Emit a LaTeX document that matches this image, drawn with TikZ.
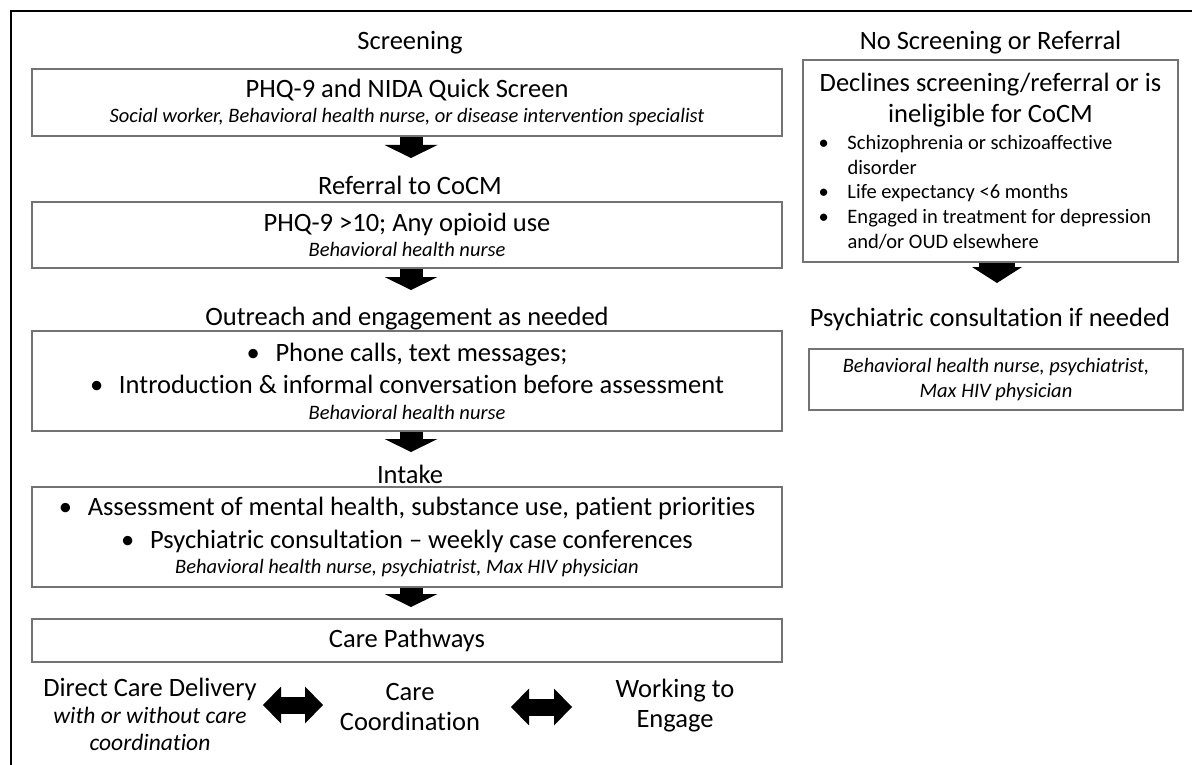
\documentclass[tikz,border=0pt]{standalone}
\usepackage{fontspec}
\setmainfont[Ligatures=NoCommon]{Carlito}
\usetikzlibrary{arrows.meta}
\newcommand\smit{\fontsize{20.5}{25}\selectfont\itshape}
\newcommand\smrg{\fontsize{20.5}{25}\selectfont}
\newcommand\blt{\makebox[29pt][l]{•}}
\begin{document}
\begin{tikzpicture}[x=1pt,y=-1pt,
  box/.style={draw=black!55, line width=1.2pt, inner sep=0pt, align=center,
    font=\fontsize{26.5}{32.5}\selectfont},
  head/.style={inner sep=0pt, anchor=base, font=\fontsize{26.5}{32.5}\selectfont},
  plain/.style={inner sep=0pt, align=center, font=\fontsize{26.5}{30}\selectfont},
  bigarrow/.style={line width=23pt, -{Triangle[width=53pt,length=13pt,line width=0pt]}},
  widearrow/.style={line width=36pt, -{Triangle[width=50pt,length=16pt,line width=0pt]}},
  dblarrow/.style={line width=17pt,
    {Triangle[width=37pt,length=18pt,line width=0pt]}-{Triangle[width=37pt,length=18pt,line width=0pt]}},
]
\useasboundingbox (0,0) rectangle (1192,765);
% outer frame
\draw[line width=2.5pt] (1192,11) -- (11,11) -- (11,765);

% ---------- left column ----------
\node[head] (h1) at (410,50) {Screening};
\node[box, minimum width=750pt, minimum height=67pt] (b1) at (407,102.5)
  {PHQ-9 and NIDA Quick Screen\\[-6.9pt]
   {\smit Social worker, Behavioral health nurse, or disease intervention specialist}};
\coordinate (t1) at (411,158);
\draw[bigarrow] (b1.south -| t1) -- (t1);

\node[head] (h2) at (410,195) {Referral to CoCM};
\node[box, minimum width=750pt, minimum height=66pt] (b2) at (407,235)
  {PHQ-9 {>}10; Any opioid use\\[-6.9pt]
   {\smit Behavioral health nurse}};
\coordinate (t2) at (411,290);
\draw[bigarrow] (b2.south -| t2) -- (t2);

\node[head] (h3) at (407,325) {Outreach and engagement as needed};
\node[box, minimum width=750pt, minimum height=100pt] (b3) at (407,381)
  {\blt Phone calls, text messages;\\
   \blt Introduction \& informal conversation before assessment\\[-6.9pt]
   {\smit Behavioral health nurse}};
\coordinate (t3) at (411,452);
\draw[bigarrow] (b3.south -| t3) -- (t3);

\node[head] (h4) at (410,483) {Intake};
\node[box, minimum width=750pt, minimum height=100pt] (b4) at (407,537)
  {\blt Assessment of mental health, substance use, patient priorities\\
   \blt Psychiatric consultation -- weekly case conferences\\[-6.9pt]
   {\smit Behavioral health nurse, psychiatrist, Max HIV physician}};
\coordinate (t4) at (411,607);
\draw[bigarrow] (b4.south -| t4) -- (t4);

\node[box, minimum width=750pt, minimum height=43pt] (b5) at (407,640.5) {Care Pathways};

% ---------- care pathways ----------
\node[plain] (dcd) at (150,714)
  {Direct Care Delivery\\[-2.9pt]
   {\fontsize{23.5}{30}\selectfont\itshape with or without care}\\[-3pt]
   {\fontsize{23.5}{30}\selectfont\itshape coordination}};
\node[plain] (cc) at (410,707) {Care\\Coordination};
\node[plain] (we) at (675,706) {Working to\\Engage};
\coordinate (a1l) at (263,705);
\coordinate (a1r) at (323,705);
\coordinate (a2l) at (511,707);
\coordinate (a2r) at (572,707);
\draw[dblarrow] (a1l) -- (a1r);
\draw[dblarrow] (a2l) -- (a2r);

% ---------- right column ----------
\node[head] (hr1) at (990.5,50) {No Screening or Referral};
\node[box, align=left, minimum width=375pt, minimum height=202pt,
      font=\fontsize{26.5}{31}\selectfont] (nsr) at (990.5,161)
  {\makebox[344pt][c]{Declines screening/referral or is}\\
   \makebox[344pt][c]{ineligible for CoCM}\\[-3.9pt]
   {\smrg\blt Schizophrenia or schizoaffective}\\[-6.25pt]
   {\smrg\hspace*{29pt}disorder}\\[-6.25pt]
   {\smrg\blt Life expectancy {<}6 months}\\[-6.25pt]
   {\smrg\blt Engaged in treatment for depression}\\[-6.25pt]
   {\smrg\hspace*{29pt}and/or OUD elsewhere}};
\coordinate (tr) at (997,283);
\draw[widearrow] (nsr.south -| tr) -- (tr);

\node[head] (hr2) at (990,326) {Psychiatric consultation if needed};
\node[box, minimum width=374pt, minimum height=61pt,
      font=\fontsize{20.5}{25}\selectfont\itshape] (pc) at (996,379.5)
  {Behavioral health nurse, psychiatrist,\\Max HIV physician};
\end{tikzpicture}
\end{document}
